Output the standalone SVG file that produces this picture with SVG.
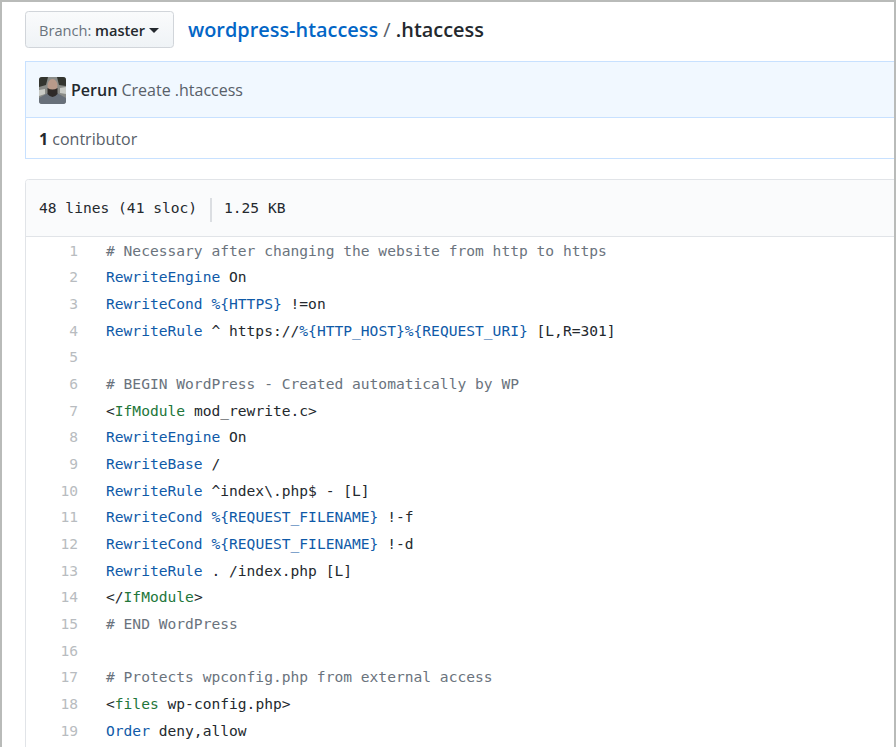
<svg xmlns="http://www.w3.org/2000/svg" width="896" height="747" viewBox="0 0 896 747">
<style>
.ui{font-family:"Open Sans","Noto Sans","Liberation Sans",sans-serif}
.m{font-family:"DejaVu Sans Mono","Liberation Mono",monospace;font-size:14.6px;fill:#24292e}
.n{font-family:"DejaVu Sans Mono","Liberation Mono",monospace;font-size:14.6px;fill:#b8bcc0;text-anchor:end}
.c{fill:#6a737d}.k{fill:#0f5aa8}.t{fill:#22763a}.v{fill:#0f5aa8}
</style>
<defs><linearGradient id="btn" x1="0" y1="0" x2="0" y2="1"><stop offset="0" stop-color="#fafbfc"/><stop offset="1" stop-color="#eff3f6"/></linearGradient></defs>
<rect width="896" height="747" fill="#fff"/>
<g id="branch">
<rect x="25.5" y="11.5" width="148" height="36" rx="3" fill="url(#btn)" stroke="#d1d5da"/>
<text class="ui" x="39" y="36" font-size="14.6" fill="#6a737d">Branch: <tspan fill="#24292e" font-weight="600">master</tspan></text>
<path d="M149 28h10l-5 5z" fill="#24292e"/>
</g>
<g id="path">
<text class="ui" x="188" y="37" font-size="19.9" font-weight="600" fill="#0366c6">wordpress-htaccess<tspan fill="#586069" font-weight="400"> / </tspan><tspan fill="#24292e">.htaccess</tspan></text>
</g>
<g id="commit">
<rect x="25.500" y="61.500" width="875" height="56" fill="#f1f8ff" stroke="#c8e1ff"/>
<rect x="25.500" y="117.500" width="875" height="41" fill="#fff" stroke="#c8e1ff"/>
<g id="avatar">
<rect x="39" y="77" width="27" height="27" rx="3" fill="#8a8c88"/>
<path d="M39 80q0-3 3-3h6l-2 8-7 2zM57 77h6q3 0 3 3v6l-7-1z" fill="#33352f"/>
<path d="M39 90l6-1v5l-6 2zM60 88l6-1v7l-6-1z" fill="#c9cbc6"/>
<path d="M39 101v-3l9-5h9l9 5v3q0 3-3 3H42q-3 0-3-3z" fill="#68707a"/>
<ellipse cx="52.500" cy="85.500" rx="5" ry="6.500" fill="#b89a8a"/>
<path d="M47.500 88q5 3 10 0v6q-5 6-10 0z" fill="#2e2a28"/>
</g>
<text class="ui" x="71" y="96" font-size="16" fill="#586069"><tspan fill="#24292e" font-weight="600">Perun</tspan> Create .htaccess</text>
<text class="ui" x="39" y="145" font-size="16" fill="#586069"><tspan fill="#24292e" font-weight="700">1</tspan> contributor</text>
</g>
<g id="file">
<rect x="25.500" y="179.500" width="875" height="580" rx="3" fill="#fff" stroke="#e1e4e8"/>
<path d="M26 236V183q0-3 3-3H896V236z" fill="#fafbfc"/>
<path d="M26 236.500H896" stroke="#e1e4e8"/>
<text class="m" x="39" y="213">48 lines (41 sloc)</text>
<path d="M211 198v24" stroke="#d1d5da" stroke-width="1.500"/>
<text class="m" x="224" y="213">1.25 KB</text>
</g>
<g id="code">
<text class="n" x="78" y="256">1</text><text class="m" x="106" y="256"><tspan class="c"># Necessary after changing the website from http to https</tspan></text>
<text class="n" x="78" y="282">2</text><text class="m" x="106" y="282"><tspan class="k">RewriteEngine</tspan> On</text>
<text class="n" x="78" y="309">3</text><text class="m" x="106" y="309"><tspan class="k">RewriteCond</tspan> <tspan class="v">%{HTTPS}</tspan> !=on</text>
<text class="n" x="78" y="336">4</text><text class="m" x="106" y="336"><tspan class="k">RewriteRule</tspan> ^ https://<tspan class="v">%{HTTP_HOST}%{REQUEST_URI}</tspan> [L,R=301]</text>
<text class="n" x="78" y="362">5</text>
<text class="n" x="78" y="389">6</text><text class="m" x="106" y="389"><tspan class="c"># BEGIN WordPress - Created automatically by WP</tspan></text>
<text class="n" x="78" y="416">7</text><text class="m" x="106" y="416">&lt;<tspan class="t">IfModule</tspan> mod_rewrite.c&gt;</text>
<text class="n" x="78" y="442">8</text><text class="m" x="106" y="442"><tspan class="k">RewriteEngine</tspan> On</text>
<text class="n" x="78" y="469">9</text><text class="m" x="106" y="469"><tspan class="k">RewriteBase</tspan> /</text>
<text class="n" x="78" y="496">10</text><text class="m" x="106" y="496"><tspan class="k">RewriteRule</tspan> ^index\.php$ - [L]</text>
<text class="n" x="78" y="522">11</text><text class="m" x="106" y="522"><tspan class="k">RewriteCond</tspan> <tspan class="v">%{REQUEST_FILENAME}</tspan> !-f</text>
<text class="n" x="78" y="549">12</text><text class="m" x="106" y="549"><tspan class="k">RewriteCond</tspan> <tspan class="v">%{REQUEST_FILENAME}</tspan> !-d</text>
<text class="n" x="78" y="576">13</text><text class="m" x="106" y="576"><tspan class="k">RewriteRule</tspan> . /index.php [L]</text>
<text class="n" x="78" y="602">14</text><text class="m" x="106" y="602">&lt;/<tspan class="t">IfModule</tspan>&gt;</text>
<text class="n" x="78" y="629">15</text><text class="m" x="106" y="629"><tspan class="c"># END WordPress</tspan></text>
<text class="n" x="78" y="656">16</text>
<text class="n" x="78" y="682">17</text><text class="m" x="106" y="682"><tspan class="c"># Protects wpconfig.php from external access</tspan></text>
<text class="n" x="78" y="709">18</text><text class="m" x="106" y="709">&lt;<tspan class="t">files</tspan> wp-config.php&gt;</text>
<text class="n" x="78" y="736">19</text><text class="m" x="106" y="736"><tspan class="k">Order</tspan> deny,allow</text>
</g>
<path id="frame" d="M1 747V1H895V747" fill="none" stroke="#b9bbb9" stroke-width="2"/>
</svg>
